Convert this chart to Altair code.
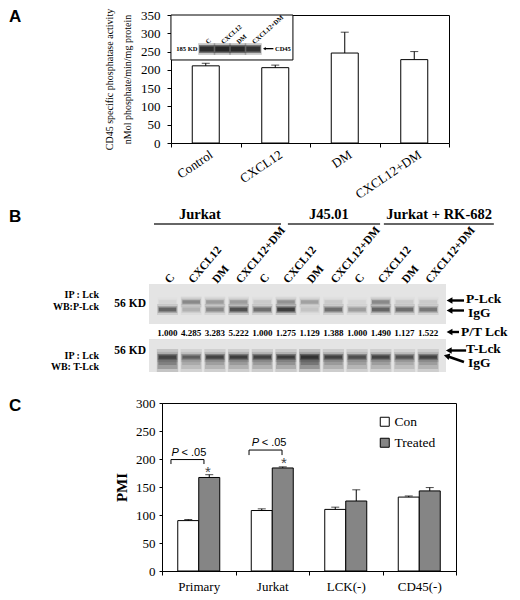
import altair as alt
import pandas as pd

SERIF = "Liberation Serif"
SANS = "Liberation Sans"

# ================= Panel A data =================
a_cats = ["Control", "CXCL12", "DM", "CXCL12+DM"]
a_vals = [211, 206, 246, 228]
a_errs = [7, 7, 57, 22]
a_title = ["CD45 specific phosphatase activity", "nMol phosphate/min/mg protein"]
a_ticks = [0, 50, 100, 150, 200, 250, 300, 350]

inset_lanes = [1, 2, 3, 4]
inset_labels = ["C", "CXCL12", "DM", "CXCL12+DM"]
inset_band = [0.85, 0.92, 0.90, 0.80]

# ================= Panel B data =================
b_lanes = list(range(1, 13))
b_lane_labels = ["C", "CXCL12", "DM", "CXCL12+DM"] * 3
b_ratios = ["1.000", "4.285", "3.283", "5.222", "1.000", "1.275",
            "1.129", "1.388", "1.000", "1.490", "1.127", "1.522"]
b_groups = ["Jurkat", "J45.01", "Jurkat + RK-682"]
b_plck_upper = [0.05, 0.40, 0.30, 0.30, 0.10, 0.35, 0.28, 0.10, 0.05, 0.40, 0.10, 0.10]
b_plck_lower = [0.60, 0.20, 0.40, 0.75, 0.55, 0.90, 0.12, 0.55, 0.30, 0.60, 0.55, 0.50]
b_tlck_band = [0.70, 0.55, 0.75, 0.80, 0.75, 0.80, 0.90, 0.75, 0.65, 0.75, 0.65, 0.75]
b_tlck_smear = [0.65, 0.35, 0.40, 0.45, 0.45, 0.50, 0.75, 0.45, 0.40, 0.42, 0.35, 0.42]

# ================= Panel C data =================
c_groups = ["Primary", "Jurkat", "LCK(-)", "CD45(-)"]
c_series = ["Con", "Treated"]
c_con = [90, 108, 110, 132]
c_con_err = [2, 3, 4, 2]
c_tr = [167, 184, 125, 143]
c_tr_err = [5, 2, 20, 6]
c_ticks = [0, 50, 100, 150, 200, 250, 300]

# ================= layout =================
W = 287
A_H = 128
BH = 194
CW = 294
CH = 168
LX = -153


def letter(ch, y):
    return alt.Chart(pd.DataFrame({"t": [ch]})).mark_text(
        font=SANS, fontSize=17, fontWeight="bold", align="left", baseline="top", color="black"
    ).encode(text="t:N", x=alt.value(LX), y=alt.value(y))


# ---------------- Panel A ----------------
dfA = pd.DataFrame({"cond": a_cats, "val": a_vals,
                    "hi": [v + e for v, e in zip(a_vals, a_errs)]})
xA_scale = alt.Scale(domain=a_cats, range=[9, W], paddingInner=0, paddingOuter=0)
yA_scale = alt.Scale(domain=[0, 350], nice=False)

axisA_x = alt.Axis(title=None, labelAngle=326, labelFont=SERIF, labelFontSize=13,
                   labelColor="black", tickBand="extent", tickSize=4, tickColor="black",
                   domainColor="black", labelPadding=1, grid=False, labelOverlap=False,
                   labelOffset=2)
axisA_y = alt.Axis(title=a_title, titleFont=SERIF, titleFontSize=10, titleFontWeight="normal",
                   titleLineHeight=18, titlePadding=8, titleColor="black", values=a_ticks,
                   labelFont=SERIF, labelFontSize=13, labelColor="black", tickSize=4,
                   tickColor="black", labelPadding=7, domainColor="black", offset=-9,
                   grid=False)

barsA = alt.Chart(dfA).mark_bar(width=27, fill="white", stroke="black", strokeWidth=1).encode(
    x=alt.X("cond:N", sort=a_cats, scale=xA_scale, axis=axisA_x),
    y=alt.Y("val:Q", scale=yA_scale, axis=axisA_y),
)
errA = alt.Chart(dfA).mark_rule(color="black", strokeWidth=1).encode(
    x=alt.X("cond:N", sort=a_cats, scale=xA_scale,
            axis=alt.Axis(orient="top", labels=False, ticks=False, title=None,
                          domainColor="black", grid=False)),
    y=alt.Y("val:Q", scale=yA_scale,
            axis=alt.Axis(orient="right", labels=False, ticks=False, title=None,
                          domainColor="black", grid=False)),
    y2="hi:Q",
)
capA = alt.Chart(dfA).mark_tick(orient="horizontal", size=8, thickness=1, color="black").encode(
    x=alt.X("cond:N", sort=a_cats, scale=xA_scale, axis=None),
    y=alt.Y("hi:Q", scale=yA_scale, axis=None),
)

# inset immunoblot (x in inset-lane units, y in panel A units)
ixs = alt.Scale(domain=[-1.887, 16.629], nice=False, zero=False)
inset_box = alt.Chart(pd.DataFrame({"x1": [-1.31], "x2": [6.56], "y1": [227], "y2": [350]})).mark_rect(
    fill="white", stroke="black", strokeWidth=1
).encode(x=alt.X("x1:Q", scale=ixs, axis=None), x2="x2:Q",
         y=alt.Y("y1:Q", scale=yA_scale, axis=None), y2="y2:Q")

rows = []
for j, b in zip(inset_lanes, inset_band):
    rows.append({"x1": j - 0.55, "x2": j + 0.55, "y1": 241, "y2": 273, "op": b * 0.3})
    rows.append({"x1": j - 0.5, "x2": j + 0.5, "y1": 246, "y2": 268, "op": b * 0.6})
    rows.append({"x1": j - 0.45, "x2": j + 0.45, "y1": 250, "y2": 264, "op": b})
inset_bands = alt.Chart(pd.DataFrame(rows)).mark_rect(fill="#222222").encode(
    x=alt.X("x1:Q", scale=ixs, axis=None), x2="x2:Q",
    y=alt.Y("y1:Q", scale=yA_scale, axis=None), y2="y2:Q",
    opacity=alt.Opacity("op:Q", scale=None),
)
inset_kd = alt.Chart(pd.DataFrame({"t": ["185 KD"], "x": [0.4], "y": [258]})).mark_text(
    font=SERIF, fontSize=6.5, fontWeight="bold", align="right", baseline="middle", color="black"
).encode(x=alt.X("x:Q", scale=ixs, axis=None), y=alt.Y("y:Q", scale=yA_scale, axis=None), text="t:N")
inset_cd = alt.Chart(pd.DataFrame({"t": ["CD45"], "x": [5.4], "y": [258]})).mark_text(
    font=SERIF, fontSize=6.5, fontWeight="bold", align="left", baseline="middle", color="black"
).encode(x=alt.X("x:Q", scale=ixs, axis=None), y=alt.Y("y:Q", scale=yA_scale, axis=None), text="t:N")
inset_arrow = alt.Chart(pd.DataFrame({"x1": [4.75], "x2": [5.3], "y": [258]})).mark_rule(
    color="black", strokeWidth=1.3
).encode(x=alt.X("x1:Q", scale=ixs, axis=None), x2="x2:Q", y=alt.Y("y:Q", scale=yA_scale, axis=None))
inset_head = alt.Chart(pd.DataFrame({"x": [4.72], "y": [258]})).mark_point(
    shape="triangle-left", filled=True, size=10, color="black", opacity=1
).encode(x=alt.X("x:Q", scale=ixs, axis=None), y=alt.Y("y:Q", scale=yA_scale, axis=None))
inset_lbl = alt.Chart(pd.DataFrame({"t": inset_labels, "x": inset_lanes, "y": [274] * 4})).mark_text(
    font=SERIF, fontSize=6.5, fontWeight="bold", align="left", baseline="middle", angle=318, color="black"
).encode(x=alt.X("x:Q", scale=ixs, axis=None), y=alt.Y("y:Q", scale=yA_scale, axis=None), text="t:N")

panelA = alt.layer(
    barsA, errA, capA, inset_box, inset_bands, inset_kd, inset_cd, inset_arrow, inset_head,
    inset_lbl, letter("A", -6)
).resolve_scale(x="independent", y="independent").properties(width=W, height=A_H)

# ---------------- Panel B ----------------
bxs = alt.Scale(domain=[0.768, 12.878], nice=False, zero=False)
bys = alt.Scale(domain=[0, BH], nice=False, zero=False, reverse=True)


def bx(f):
    return alt.X(f, type="quantitative", scale=bxs, axis=None)


def by(f):
    return alt.Y(f, type="quantitative", scale=bys, axis=None)


def btext(df, **kw):
    base = dict(font=SERIF, fontWeight="bold", color="black", baseline="middle")
    base.update(kw)
    return alt.Chart(df).mark_text(**base).encode(x=bx("x"), y=by("y"), text="t:N")


blots = alt.Chart(pd.DataFrame({"x1": [0.22, 0.22], "x2": [12.75, 12.75],
                                "y1": [82, 137], "y2": [122, 170]})).mark_rect(
    fill="#e4e4e4"
).encode(x=bx("x1"), x2="x2:Q", y=by("y1"), y2="y2:Q")

rows = []
for i, ln in enumerate(b_lanes):
    # P-Lck (upper) and IgG (lower) bands of the phospho blot, total-Lck band and smear
    for cy, val, h in ((100, b_plck_upper[i], 1.8), (107.5, b_plck_lower[i], 2.0),
                       (155, b_tlck_band[i], 1.6)):
        rows.append({"x1": ln - 0.44, "x2": ln + 0.44, "y1": cy - h - 3.5, "y2": cy + h + 3.5, "op": val * 0.18})
        rows.append({"x1": ln - 0.41, "x2": ln + 0.41, "y1": cy - h - 1.5, "y2": cy + h + 1.5, "op": val * 0.35})
        rows.append({"x1": ln - 0.37, "x2": ln + 0.37, "y1": cy - h, "y2": cy + h, "op": val * 0.8})
    s = b_tlck_smear[i]
    rows.append({"x1": ln - 0.45, "x2": ln + 0.45, "y1": 147, "y2": 170, "op": s * 0.25})
    rows.append({"x1": ln - 0.42, "x2": ln + 0.42, "y1": 152, "y2": 167, "op": s * 0.35})
    rows.append({"x1": ln - 0.38, "x2": ln + 0.38, "y1": 156, "y2": 163, "op": s * 0.35})
bands = alt.Chart(pd.DataFrame(rows)).mark_rect(fill="#1e1e1e").encode(
    x=bx("x1"), x2="x2:Q", y=by("y1"), y2="y2:Q", opacity=alt.Opacity("op:Q", scale=None)
)

grp_titles = btext(pd.DataFrame({"t": b_groups, "x": [2.37, 7.81, 12.46], "y": [13] * 3}),
                   fontSize=14.5, align="center")
grp_lines = alt.Chart(pd.DataFrame({"x1": [0.43, 6.08, 10.13], "x2": [5.79, 9.97, 14.77],
                                    "y": [22] * 3})).mark_rule(color="#333333", strokeWidth=1.5).encode(
    x=bx("x1"), x2="x2:Q", y=by("y"))
lane_lbl = btext(pd.DataFrame({"t": b_lane_labels, "x": b_lanes, "y": [80] * 12}),
                 fontSize=11.5, align="left", angle=310)
ratio_txt = btext(pd.DataFrame({"t": b_ratios, "x": b_lanes, "y": [131] * 12}),
                  fontSize=9, align="center")
left_txt = btext(pd.DataFrame({"t": ["IP : Lck", "WB:P-Lck", "IP : Lck", "WB: T-Lck"],
                               "x": [-1.89] * 4, "y": [93, 105, 154, 165]}),
                 fontSize=10, align="right")
kd_txt = btext(pd.DataFrame({"t": ["56 KD", "56 KD"], "x": [0.09, 0.09], "y": [102, 149]}),
               fontSize=11.5, align="right")
right_txt = btext(pd.DataFrame({"t": ["P-Lck", "IgG", "P/T Lck", "T-Lck", "IgG"],
                                "x": [13.6, 13.68, 13.38, 13.6, 13.68],
                                "y": [97, 111, 130, 147, 161]}),
                  fontSize=13.5, align="left")
arrows = alt.Chart(pd.DataFrame({"x1": [12.95, 12.95, 12.95, 12.92, 12.84],
                                 "x2": [13.51, 13.51, 13.3, 13.6, 13.51],
                                 "y1": [98.5, 108.5, 130, 148.5, 154.5],
                                 "y2": [98.5, 108.5, 130, 148.5, 160]})).mark_rule(
    color="black", strokeWidth=2.4).encode(x=bx("x1"), x2="x2:Q", y=by("y1"), y2="y2:Q")
heads = alt.Chart(pd.DataFrame({"x": [12.9, 12.9, 12.9, 12.87], "y": [98.5, 108.5, 130, 148.5]})).mark_point(
    shape="triangle-left", filled=True, size=45, color="black", opacity=1
).encode(x=bx("x"), y=by("y"))
head2 = alt.Chart(pd.DataFrame({"x": [12.78], "y": [154]})).mark_point(
    shape="triangle-left", filled=True, size=45, color="black", opacity=1, angle=15
).encode(x=bx("x"), y=by("y"))

panelB = alt.layer(
    blots, bands, grp_titles, grp_lines, lane_lbl, ratio_txt, left_txt, kd_txt,
    right_txt, arrows, heads, head2, letter("B", 7)
).properties(width=W, height=BH)

# ---------------- Panel C ----------------
dfC = pd.DataFrame({
    "grp": c_groups * 2,
    "ser": ["Con"] * 4 + ["Treated"] * 4,
    "val": c_con + c_tr,
    "hi": [v + e for v, e in zip(c_con, c_con_err)] + [v + e for v, e in zip(c_tr, c_tr_err)],
})
xC_scale = alt.Scale(domain=c_groups, paddingInner=0, paddingOuter=0)
yC_scale = alt.Scale(domain=[0, 300], nice=False)
axisC_x = alt.Axis(title=None, labelAngle=0, labelFont=SERIF, labelFontSize=13, labelColor="black",
                   tickBand="extent", tickSize=4, tickColor="black", labelPadding=5,
                   domainColor="black", grid=False)
axisC_y = alt.Axis(title="PMI", titleFont=SERIF, titleFontSize=15, titleFontWeight="bold",
                   titleColor="black", titlePadding=6, values=c_ticks, labelFont=SERIF,
                   labelFontSize=13, labelColor="black", tickSize=3, tickColor="black",
                   labelPadding=4, domainColor="black", grid=False)
colorC = alt.Color("ser:N", scale=alt.Scale(domain=c_series, range=["white", "#858585"]),
                   legend=alt.Legend(title=None, orient="none", legendX=216, legendY=400,
                                     symbolType="square", symbolSize=81, symbolStrokeColor="black",
                                     symbolStrokeWidth=1, labelFont=SERIF, labelFontSize=13.5,
                                     labelColor="black", rowPadding=6, labelOffset=3, padding=0))

layersC = []
for k, (s, off) in enumerate(((c_series[0], -10.5), (c_series[1], 10.5))):
    base = alt.Chart(dfC).transform_filter(alt.datum.ser == s)
    layersC.append(base.mark_bar(width=21, xOffset=off, stroke="black", strokeWidth=1).encode(
        x=alt.X("grp:N", sort=c_groups, scale=xC_scale, axis=axisC_x if k == 0 else None),
        y=alt.Y("val:Q", scale=yC_scale, axis=axisC_y if k == 0 else None),
        color=colorC,
    ))
    layersC.append(base.mark_rule(xOffset=off, color="black", strokeWidth=1).encode(
        x=alt.X("grp:N", sort=c_groups, scale=xC_scale, axis=None),
        y=alt.Y("val:Q", scale=yC_scale, axis=None), y2="hi:Q",
    ))
    layersC.append(base.mark_tick(orient="horizontal", xOffset=off, size=8, thickness=1,
                                  color="black").encode(
        x=alt.X("grp:N", sort=c_groups, scale=xC_scale, axis=None),
        y=alt.Y("hi:Q", scale=yC_scale, axis=None),
    ))

gxs = alt.Scale(domain=[-0.5, 3.5], nice=False, zero=False)
brackets = alt.Chart(pd.DataFrame({
    "x1": [-0.378, -0.378, 0.071, 0.684, 0.684, 1.133],
    "x2": [0.071, -0.378, 0.071, 1.133, 0.684, 1.133],
    "y1": [199, 199, 199, 216, 216, 216],
    "y2": [199, 191, 191, 216, 207, 207],
})).mark_rule(color="black", strokeWidth=1).encode(
    x=alt.X("x1:Q", scale=gxs, axis=None), x2="x2:Q",
    y=alt.Y("y1:Q", scale=yC_scale, axis=None), y2="y2:Q")
p_txt = alt.Chart(pd.DataFrame({"t": ["P", "P"], "x": [-0.37, 0.72], "y": [211, 228]})).mark_text(
    font=SANS, fontSize=11, fontStyle="italic", align="left", baseline="middle", color="black"
).encode(x=alt.X("x:Q", scale=gxs, axis=None), y=alt.Y("y:Q", scale=yC_scale, axis=None), text="t:N")
lt_txt = alt.Chart(pd.DataFrame({"t": ["< .05", "< .05"], "x": [-0.37, 0.72], "y": [211, 228]})).mark_text(
    font=SANS, fontSize=11, align="left", baseline="middle", color="black", dx=10
).encode(x=alt.X("x:Q", scale=gxs, axis=None), y=alt.Y("y:Q", scale=yC_scale, axis=None), text="t:N")
stars = alt.Chart(pd.DataFrame({"t": ["*", "*"], "x": [0.126, 1.16], "y": [179, 195]})).mark_text(
    font=SANS, fontSize=15, align="center", baseline="alphabetic", dy=6, color="#444444"
).encode(x=alt.X("x:Q", scale=gxs, axis=None), y=alt.Y("y:Q", scale=yC_scale, axis=None), text="t:N")

panelC = alt.layer(*layersC, brackets, p_txt, lt_txt, stars, letter("C", -5)).resolve_scale(
    x="independent", y="independent"
).properties(width=CW, height=CH, view=alt.ViewBackground(stroke="black", strokeWidth=1))

chart = alt.vconcat(panelA, panelB, panelC, spacing=0, padding=0).configure_view(stroke=None)

chart.save("out.html", embed_options={"renderer": "svg", "actions": False})
